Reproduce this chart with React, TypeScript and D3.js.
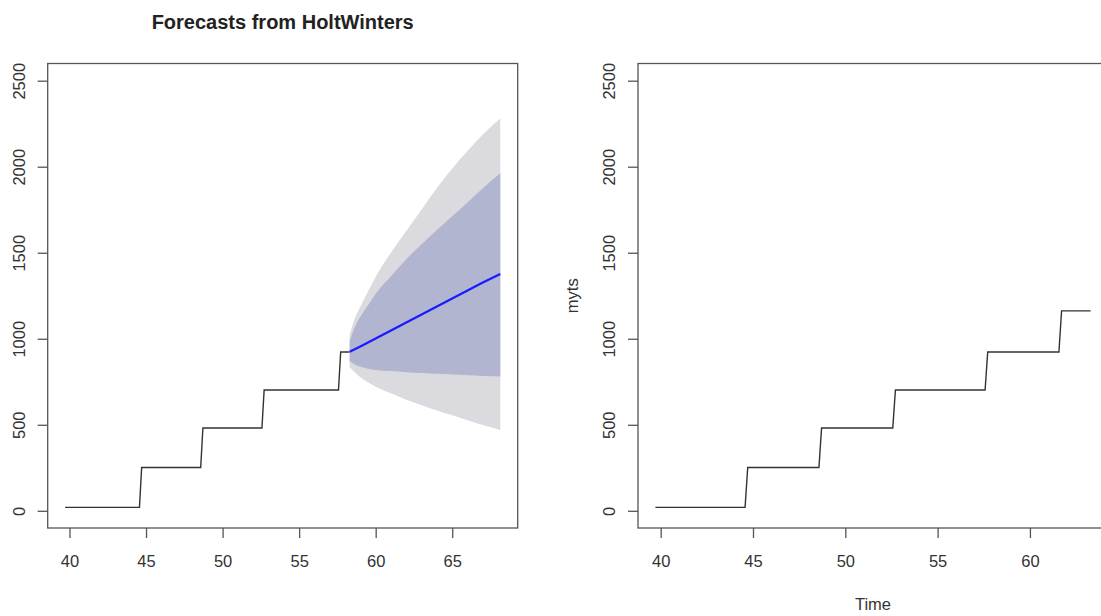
import * as d3 from "d3";
import { useEffect, useRef } from "react";

// observed series (corner points of the step line), time in years
const seriesTime = [39.714, 44.571, 44.714, 48.571, 48.714, 52.571, 52.714, 57.571, 57.714, 58.286, 61.571, 61.714, 63.286];
const seriesValue = [20, 20, 252, 252, 481, 481, 702, 702, 923, 923, 923, 1162, 1162];
// the left panel only sees the series up to here
const trainEnd = 58.286;

// HoltWinters forecast
const fcTime = [58.3, 58.6, 59.0, 59.5, 60, 61, 62, 63, 64, 65, 66, 67, 68.14];
const fcMean = [925, 937, 955, 978, 1002, 1048, 1095, 1141, 1188, 1234, 1281, 1327, 1377];
const fcLo80 = [870, 852, 837, 826, 819, 812, 806, 801, 796, 792, 788, 784, 780];
const fcHi80 = [985, 1060, 1128, 1195, 1262, 1364, 1462, 1550, 1632, 1712, 1792, 1875, 1962];
const fcLo95 = [835, 808, 776, 747, 721, 683, 646, 614, 583, 555, 527, 499, 470];
const fcHi95 = [1020, 1110, 1186, 1275, 1360, 1500, 1626, 1752, 1876, 1990, 2092, 2187, 2280];

const yTicks = [0, 500, 1000, 1500, 2000, 2500];
const yLimits = [0, 2500];

const W = 1101;
const H = 616;
const FONT = "'Liberation Sans', Arial, Helvetica, sans-serif";
const INK = "#333";

// plot regions of the two panels (right one runs past the picture)
const panels = {
    left: { x0: 47.7, x1: 517.7 },
    right: { x0: 638, x1: 1108 }
};
const plotTop = 63.5;
const plotBottom = 528;

// R pads every range by 4%
const padded = (lo, hi) => {
    const p = (hi - lo) * 0.04;
    return [lo - p, hi + p];
};

const drawPanel = (svg, box, xDomain, xTicks, series, opts) => {
    const x = d3.scaleLinear().domain(padded(xDomain[0], xDomain[1])).range([box.x0, box.x1]);
    const y = d3.scaleLinear().domain(padded(yLimits[0], yLimits[1])).range([plotBottom, plotTop]);
    const g = svg.append("g");

    if (opts.forecast) {
        const fc = fcTime.map((t, i) => ({
            t, mean: fcMean[i], lo80: fcLo80[i], hi80: fcHi80[i], lo95: fcLo95[i], hi95: fcHi95[i]
        }));
        const band = (lo, hi) => d3.area()
            .x(d => x(d.t))
            .y0(d => y(d[lo]))
            .y1(d => y(d[hi]))
            .curve(d3.curveMonotoneX);

        g.append("path").datum(fc).attr("d", band("lo95", "hi95")).style("fill", "#DBDBDF");
        g.append("path").datum(fc).attr("d", band("lo80", "hi80")).style("fill", "#B1B5CF");
    }

    // observed step line
    const line = d3.line().x(d => x(d[0])).y(d => y(d[1]));
    g.append("path")
        .datum(series)
        .attr("d", line)
        .style("fill", "none")
        .style("stroke", INK)
        .style("stroke-width", 1.4);

    if (opts.forecast) {
        g.append("path")
            .datum(fcTime.map((t, i) => [t, fcMean[i]]))
            .attr("d", line)
            .style("fill", "none")
            .style("stroke", "#1a1aff")
            .style("stroke-width", 2.2);
    }

    // frame
    g.append("rect")
        .attr("x", box.x0)
        .attr("y", plotTop)
        .attr("width", box.x1 - box.x0)
        .attr("height", plotBottom - plotTop)
        .style("fill", "none")
        .style("stroke", "#555")
        .style("stroke-width", 1.3);

    // x axis
    const xAxis = g.append("g")
        .attr("transform", `translate(0, ${plotBottom})`)
        .call(d3.axisBottom(x).tickValues(xTicks).tickSize(10).tickSizeOuter(0).tickPadding(17));
    xAxis.select(".domain").remove();
    xAxis.selectAll("line").style("stroke", "#555").style("stroke-width", 1.3);
    xAxis.selectAll("text")
        .style("font-family", FONT)
        .style("font-size", "16.5px")
        .style("fill", INK);

    // y axis, labels turned like R does
    const yAxis = g.append("g")
        .attr("transform", `translate(${box.x0}, 0)`)
        .call(d3.axisLeft(y).tickValues(yTicks).tickFormat(d3.format("d")).tickSize(10).tickSizeOuter(0));
    yAxis.select(".domain").remove();
    yAxis.selectAll("line").style("stroke", "#555").style("stroke-width", 1.3);
    yAxis.selectAll("text")
        .attr("x", null)
        .attr("dy", null)
        .attr("text-anchor", "middle")
        .attr("transform", "translate(-22.7, 0) rotate(-90)")
        .style("font-family", FONT)
        .style("font-size", "16.5px")
        .style("fill", INK);

    return { x, y };
};

const App = () => {
    const ref = useRef(null);

    useEffect(() => {
        const svg = d3.select(ref.current);
        svg.selectAll("*").remove();

        const all = seriesTime.map((t, i) => [t, seriesValue[i]]);
        const train = all.filter(d => d[0] <= trainEnd);

        drawPanel(svg, panels.left, [seriesTime[0], fcTime[fcTime.length - 1]], [40, 45, 50, 55, 60, 65], train, { forecast: true });
        drawPanel(svg, panels.right, [seriesTime[0], seriesTime[seriesTime.length - 1]], [40, 45, 50, 55, 60], all, { forecast: false });

        // titles and axis names
        svg.append("text")
            .attr("x", (panels.left.x0 + panels.left.x1) / 2)
            .attr("y", 29)
            .attr("text-anchor", "middle")
            .style("font-family", FONT)
            .style("font-weight", "bold")
            .style("font-size", "20px")
            .style("fill", "#222")
            .text("Forecasts from HoltWinters");

        svg.append("text")
            .attr("transform", `translate(578, ${(plotTop + plotBottom) / 2}) rotate(-90)`)
            .attr("text-anchor", "middle")
            .style("font-family", FONT)
            .style("font-size", "16.5px")
            .style("fill", INK)
            .text("myts");

        svg.append("text")
            .attr("x", (panels.right.x0 + panels.right.x1) / 2)
            .attr("y", 610)
            .attr("text-anchor", "middle")
            .style("font-family", FONT)
            .style("font-size", "16.5px")
            .style("fill", INK)
            .text("Time");
    }, []);

    return (
        <svg
            ref={ref}
            width={W}
            height={H}
            style={{ position: "absolute", left: 0, top: 0, background: "#fff" }}
        />
    );
};

export default App;
